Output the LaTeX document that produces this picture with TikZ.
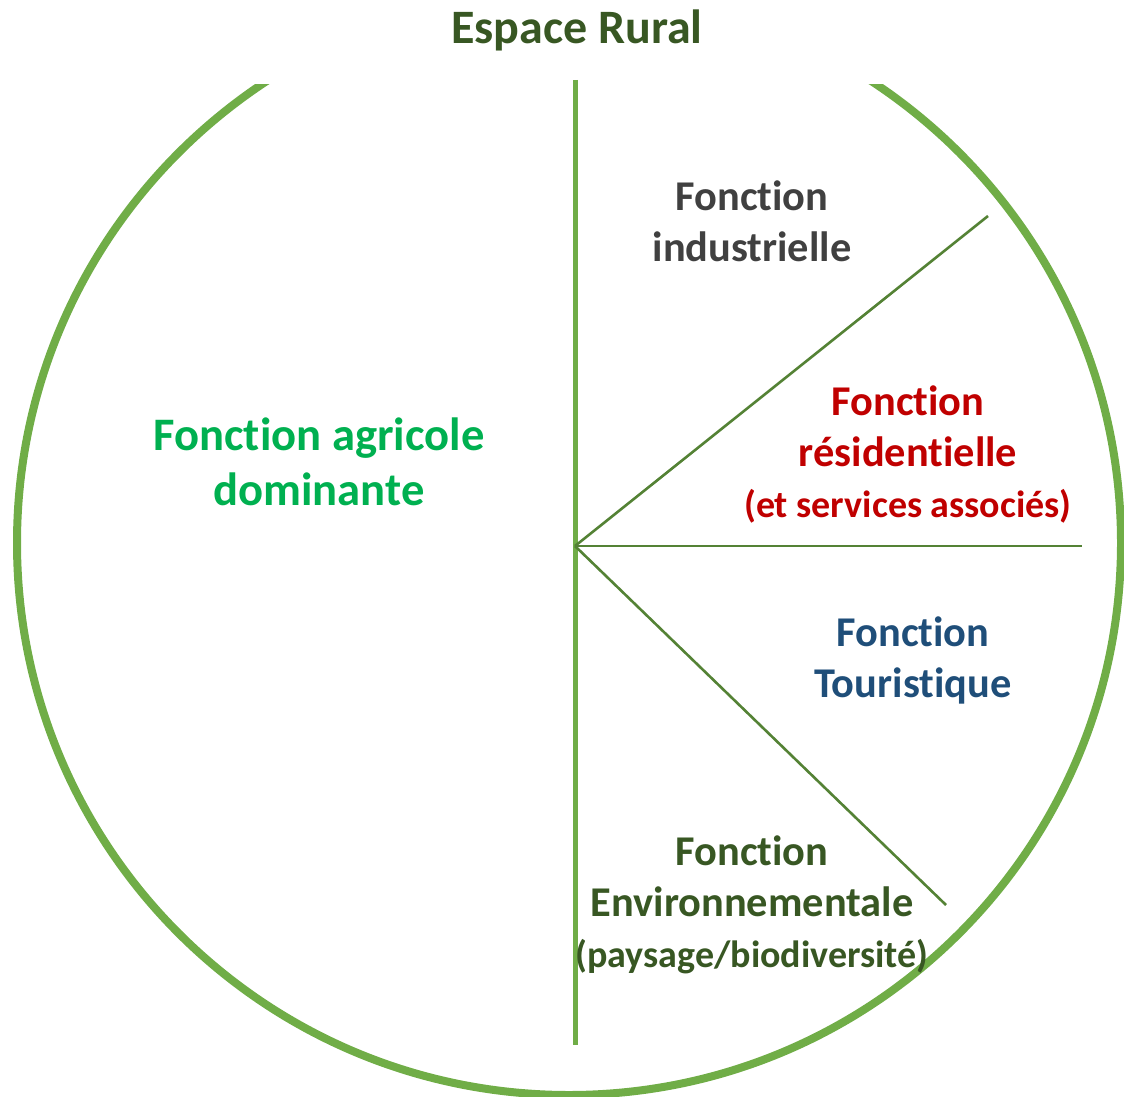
\documentclass[tikz,border=0pt]{standalone}
\usepackage{fontspec}
\setmainfont{Carlito}[Ligatures=NoCommon]
\usetikzlibrary{positioning}

\definecolor{ringgreen}{HTML}{70AD47}
\definecolor{spokegreen}{HTML}{548235}
\definecolor{darkgreen}{HTML}{385723}
\definecolor{agrigreen}{HTML}{00B050}
\definecolor{indgray}{HTML}{404040}
\definecolor{resred}{HTML}{C00000}
\definecolor{tourblue}{HTML}{1F4E79}

\tikzset{
    label/.style={align=center, inner sep=0pt, font=\fontsize{21.2pt}{25.5pt}\selectfont\bfseries},
    spoke/.style={draw=spokegreen, line width=1.3pt}
}

\begin{document}
\begin{tikzpicture}[x=0.5pt, y=-0.5pt]
    \useasboundingbox (0,0) rectangle (1124,1097);

    % Outer circle, open at the top
    \coordinate (hub) at (575,546);
    \begin{scope}
        \clip (0,85) rectangle (1124,1097);
        \draw[ringgreen, line width=4pt] (569,543) circle [radius=276pt];
    \end{scope}

    % Title
    \node[label, text=darkgreen, font=\fontsize{24pt}{28pt}\selectfont\bfseries] (title) at (577,30) {Espace Rural};

    % Dividing lines
    \coordinate (top) at (575,80);
    \coordinate (bottom) at (575,1045);
    \coordinate (ind) at (988,216);
    \coordinate (res) at (1082,546);
    \coordinate (env) at (946,905);
    \draw[ringgreen, line width=2.5pt] (top) -- (bottom);
    \draw[spoke] (hub) -- (ind);
    \draw[spoke] (hub) -- (res);
    \draw[spoke] (hub) -- (env);

    % Functions
    \node[label, text=agrigreen, font=\fontsize{23.3pt}{27.5pt}\selectfont\bfseries] (agri) at (319,462) {Fonction agricole\\dominante};
    \node[label, text=indgray] (indus) at (752,221) {Fonction\\industrielle};
    \node[label, text=resred] (resid) at (908,454) {Fonction\\résidentielle\\{\fontsize{19pt}{24.5pt}\selectfont(et services associés)}};
    \node[label, text=tourblue] (touri) at (913,660) {Fonction\\Touristique};
    \node[label, text=darkgreen] (envir) at (752,905) {Fonction\\Environnementale\\{\fontsize{19pt}{24.5pt}\selectfont(paysage/biodiversité)}};
\end{tikzpicture}
\end{document}
